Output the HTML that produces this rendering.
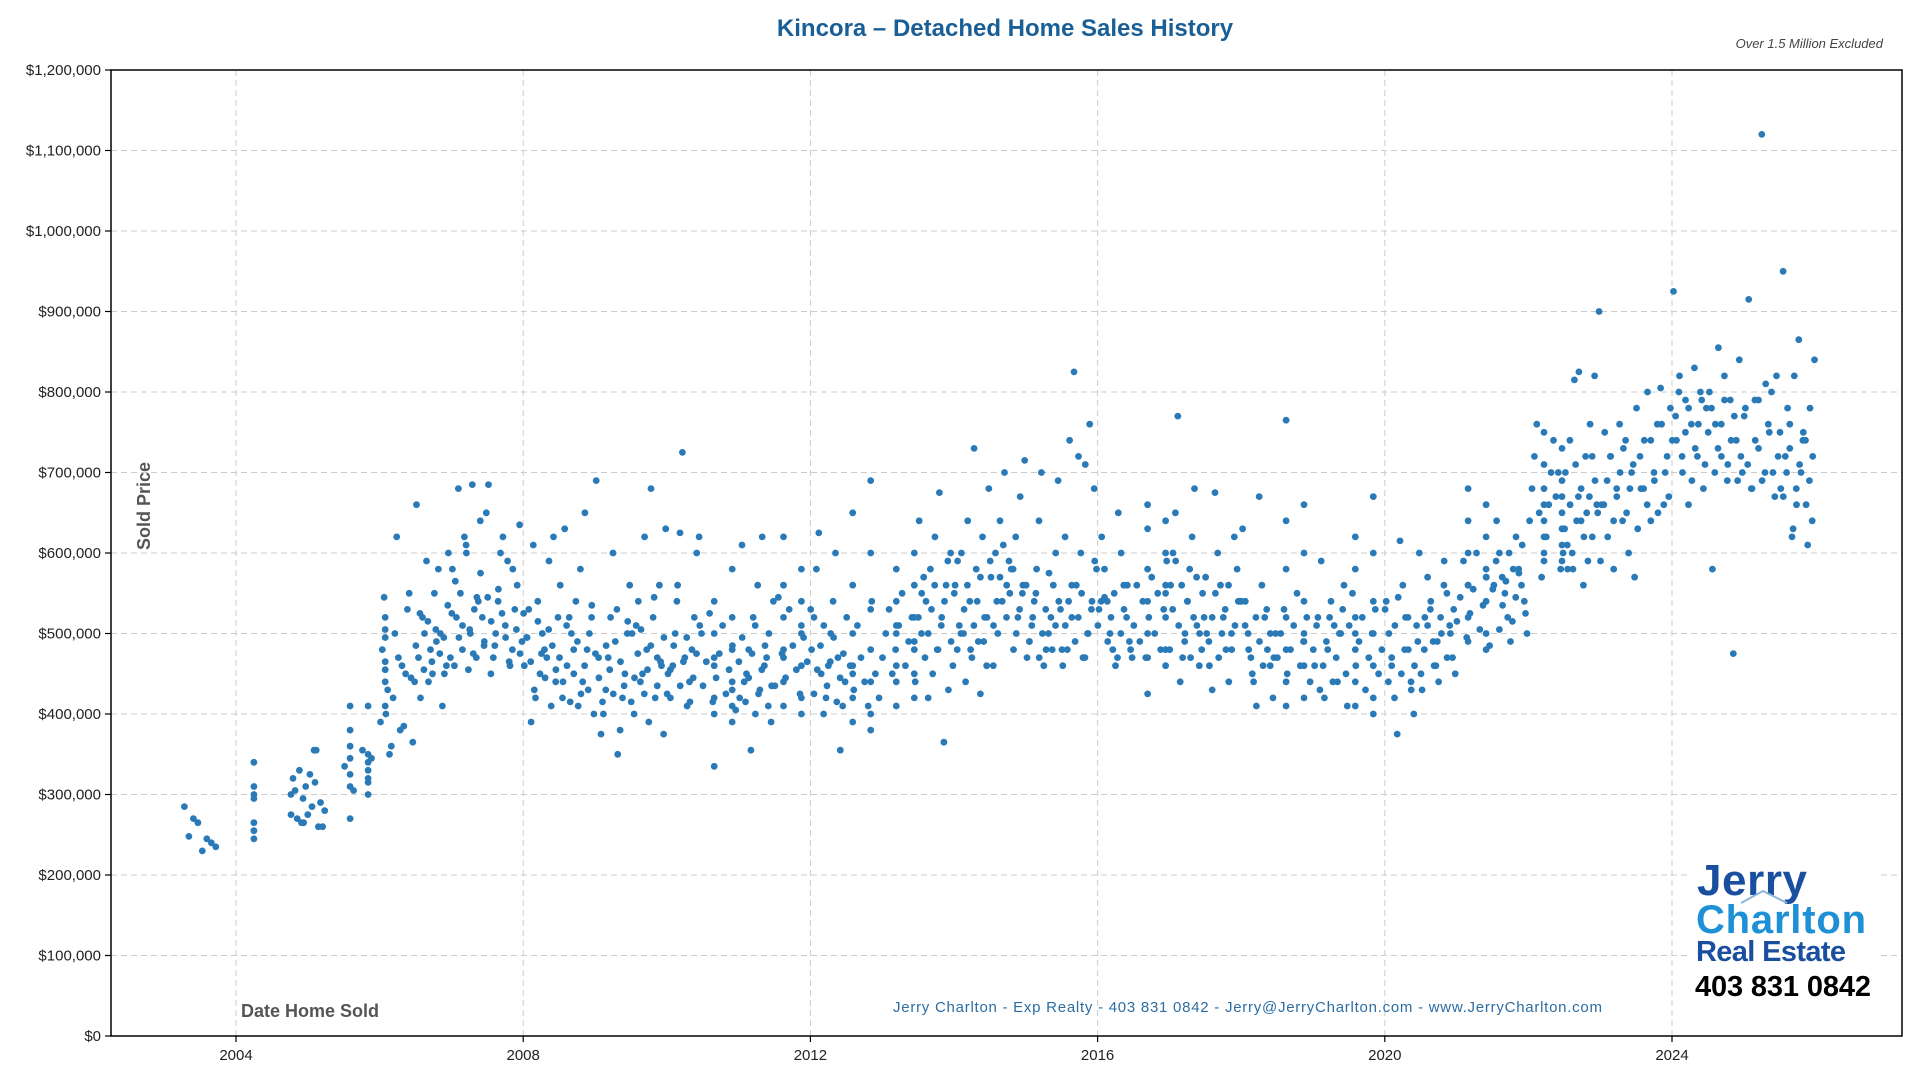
<!DOCTYPE html>
<html><head><meta charset="utf-8">
<style>
html,body{margin:0;padding:0;background:#fff;}
body{width:1920px;height:1080px;overflow:hidden;font-family:"Liberation Sans",sans-serif;}
</style></head>
<body>
<svg id="chart" width="1920" height="1080" xmlns="http://www.w3.org/2000/svg">
  <text x="1005" y="36" text-anchor="middle" font-family="Liberation Sans, sans-serif" font-weight="bold" font-size="24" fill="#1a5e96">Kincora – Detached Home Sales History</text>
  <text x="1883" y="48" text-anchor="end" font-family="Liberation Sans, sans-serif" font-style="italic" font-size="13" fill="#444">Over 1.5 Million Excluded</text>
  <g id="grid"></g>
  <g id="yticks"></g>
  <g id="xticks"></g>
  <g id="dots"></g>
  <rect x="111" y="70" width="1791" height="966" fill="none" stroke="#000" stroke-width="1.5"/>
  <text transform="translate(150,506) rotate(-90)" text-anchor="middle" font-family="Liberation Sans, sans-serif" font-weight="bold" font-size="18" fill="#555">Sold Price</text>
  <text x="241" y="1017" font-family="Liberation Sans, sans-serif" font-weight="bold" font-size="18" fill="#555">Date Home Sold</text>
  <text x="893" y="1012" textLength="709" font-family="Liberation Sans, sans-serif" font-size="15" fill="#2c6da3">Jerry Charlton - Exp Realty - 403 831 0842 - Jerry@JerryCharlton.com - www.JerryCharlton.com</text>
  <g>
    <rect x="1690" y="850" width="190" height="160" fill="#fff"/>
    <text x="1697" y="895" textLength="110" font-family="Liberation Sans, sans-serif" font-weight="bold" font-size="44" fill="#1a4fa0">Jerry</text>
    <polyline points="1741,903 1763,891 1787,903" fill="none" stroke="#8ab6d8" stroke-width="2"/>
    <text x="1696" y="933" textLength="170" font-family="Liberation Sans, sans-serif" font-weight="bold" font-size="40" fill="#1e90d6">Charlton</text>
    <text x="1696" y="961" textLength="150" font-family="Liberation Sans, sans-serif" font-weight="bold" font-size="29" fill="#1a4fa0">Real Estate</text>
    <text x="1695" y="996" textLength="176" font-family="Liberation Sans, sans-serif" font-weight="bold" font-size="29" fill="#000">403 831 0842</text>
  </g>
</svg>
<script>
// Data: each bin = half-year start, prices in $K
const binStarts = [2003.25,2004,2004.75,2005.5,2006,2006.5,2007,2007.5,2008,2008.5,2009,2009.5,2010,2010.5,2011,2011.5,2012,2012.5,2013,2013.5,2014,2014.5,2015,2015.5,2016,2016.5,2017,2017.5,2018,2018.5,2019,2019.5,2020,2020.5,2021,2021.5,2022,2022.5,2023,2023.5,2024,2024.5,2025,2025.5];
const binPrices = [
[285,235,240,245,230,265,270,248],
[295,265,245,255,310,340,300],
[265,260,270,285,300,310,290,330,355,320,275,260,265,355,305,325,280],
[410,410,320,310,300,270,350,380,340,345,330,325,315,360],
[460,440,360,385,390,420,450,480,500,530,545,620,550,400,470,445,430,380,365,350],
[460,500,580,660,480,450,520,490,470,440,410,420,550,600,590,500,470,450],
[580,600,640,680,685,650,620,540,520,500,490,480,470,460,455,520,550,530],
[620,635,600,560,540,530,500,480,470,460,450,590,685,510,490],
[500,520,540,620,610,590,530,480,460,450,440,420,410,390,470,495],
[650,630,580,560,540,520,500,480,460,440,420,410,400,480,500,520],
[690,600,560,520,500,470,450,430,420,400,380,375,350,470,490],
[630,620,560,540,520,500,480,460,440,420,400,390,375,450,470,510,680],
[725,620,625,600,560,520,500,480,460,440,420,410,450,470,500],
[580,540,520,500,480,460,440,420,410,400,390,335,430,470],
[620,610,560,540,520,500,480,460,440,430,420,400,390,355,470,450],
[620,580,560,540,520,500,480,460,440,420,410,400,470,510],
[625,600,580,540,520,500,480,460,440,420,410,400,355,450,470],
[690,650,600,560,530,500,480,460,440,420,400,390,380,450],
[600,580,560,540,520,500,480,460,450,440,420,410,490,510],
[675,640,620,600,580,560,540,520,500,480,460,450,430,420,365,570],
[730,680,640,620,600,580,560,540,520,500,490,480,470,460,440,425,510],
[715,700,670,640,620,600,580,570,560,550,540,520,500,480,460,590],
[700,690,640,600,580,560,540,520,510,500,490,480,470,460,530],
[825,760,740,710,620,600,580,560,540,520,500,480,470,460,720,680],
[650,620,600,580,560,540,520,500,490,480,470,460,530],
[660,640,630,600,580,560,540,520,500,480,470,460,425,550],
[770,680,650,620,600,580,560,540,520,500,480,470,460,440,510],
[675,620,600,580,560,540,520,500,480,460,440,430,500],
[670,630,560,540,520,500,480,470,460,440,420,410,500],
[765,660,640,600,580,540,520,500,480,460,440,420,410,490],
[590,560,540,520,500,480,460,440,420,410,510],
[670,620,600,580,540,520,500,480,460,440,420,410,400,500],
[615,600,560,540,520,500,480,460,440,420,400,375,510],
[590,570,550,530,510,490,470,460,450,440,430,500,520],
[680,660,640,620,600,580,560,540,520,500,490,480,560,570],
[640,620,600,580,570,560,550,540,520,500,490,560,580],
[760,740,720,700,680,660,640,620,600,590,580,570,700,650,670],
[900,825,820,815,760,740,720,700,680,660,640,620,600,590,580,560],
[760,750,740,720,700,680,660,640,620,600,580,570],
[805,800,780,760,740,720,700,680,660,640,630],
[925,830,820,800,790,780,760,740,720,700,680,660],
[855,840,820,800,790,760,740,720,700,690,580,475],
[1120,915,800,790,780,760,740,720,700,680,670],
[950,865,840,820,780,760,740,720,700,680,660,640,620,610,780,750]
];
// additional sales in the dense middle of each bin ($K)
const binExtra = [
[],[],
[275,295,315],
[335,345,355,305],
[455,465,495,505,520,440,410],
[485,495,505,515,525,535,475,465,455],
[565,575,505,495,485,475,510,525,545,610],
[525,515,505,495,485,475,465,555,545,580],
[505,515,495,485,475,465,455,445,430,525],
[470,460,450,440,430,490,510,535,425,415],
[485,475,465,455,445,435,425,415,515,530],
[505,495,485,475,465,455,445,435,425,415,545],
[495,485,475,465,455,445,435,425,415,540,510],
[485,475,465,455,445,435,425,415,405,510,525],
[495,485,475,465,455,445,435,425,415,410,510],
[495,485,475,465,455,445,435,425,530,545],
[495,485,475,465,455,445,435,425,415,510,530],
[470,460,450,440,430,420,410,510,520,540],
[530,520,510,500,490,480,470,460,450,440,550],
[560,550,540,530,520,510,500,490,480,470,590],
[570,560,550,540,530,520,510,500,490,480,590],
[590,580,570,560,550,540,530,520,510,500,610],
[550,540,530,520,510,500,490,480,470,560,575],
[550,540,530,520,510,500,490,480,470,560,590],
[560,550,540,530,520,510,500,490,480,470,545],
[570,560,550,540,530,520,510,500,490,480,470,590],
[570,560,550,540,530,520,510,500,490,480,470,590],
[560,550,540,530,520,510,500,490,480,470,570],
[530,520,510,500,490,480,470,460,450,540],
[530,520,510,500,490,480,470,460,450,440,550],
[520,510,500,490,480,470,460,450,440,430,530],
[530,520,510,500,490,480,470,460,450,430,550],
[530,520,510,490,480,470,460,450,440,430,545],
[540,530,520,510,500,490,480,470,460,450,560],
[600,590,570,555,545,535,525,515,505,495,485],
[610,600,590,575,565,555,545,535,525,515,505],
[690,680,670,660,650,640,630,620,610,600,590,710,730,750],
[720,710,690,670,650,640,630,620,610,650,660,670,580],
[730,720,710,700,690,680,670,660,650,640,590],
[780,760,740,720,700,690,680,670,650,660],
[800,790,780,770,760,750,740,730,720,710,690],
[790,780,770,760,750,740,730,720,710,700,690],
[820,810,790,770,750,730,710,700,690,680],
[750,740,730,720,710,700,690,680,670,660,630]
];
const yTickValues = [0,100000,200000,300000,400000,500000,600000,700000,800000,900000,1000000,1100000,1200000];
const xTickYears = [2004,2008,2012,2016,2020,2024];

const NS = "http://www.w3.org/2000/svg";
const L=111,R=1902,T=70,B=1036;
function xScale(yr){return 236+(yr-2004)*71.8;}
function yScale(v){return B-(v/1200000)*(B-T);}
function mk(tag,attrs,parent){const e=document.createElementNS(NS,tag);for(const k in attrs)e.setAttribute(k,attrs[k]);parent.appendChild(e);return e;}
function fmt(v){return "$"+v.toLocaleString("en-US");}

const grid=document.getElementById("grid"),yt=document.getElementById("yticks"),xt=document.getElementById("xticks"),dots=document.getElementById("dots");
yTickValues.forEach(v=>{
  const y=yScale(v);
  if(v>0&&v<1200000){const g=mk("line",{x1:L,x2:R,y1:y,y2:y,stroke:"#ccc","stroke-dasharray":"6,4","stroke-width":1},grid);
  
  }
  mk("line",{x1:L-6,x2:L,y1:y,y2:y,stroke:"#000","stroke-width":1.2},yt);
  const t=mk("text",{x:L-10,y:y+5,"text-anchor":"end","font-size":15,fill:"#222","font-family":"Liberation Sans, sans-serif"},yt);
  t.textContent=fmt(v);
  
  
});
xTickYears.forEach(yr=>{
  const x=xScale(yr);
  const g=mk("line",{x1:x,x2:x,y1:T,y2:B,stroke:"#ccc","stroke-dasharray":"6,4","stroke-width":1},grid);
  
  
  mk("line",{x1:x,x2:x,y1:B,y2:B+6,stroke:"#000","stroke-width":1.2},xt);
  const t=mk("text",{x:x,y:B+24,"text-anchor":"middle","font-size":15,fill:"#222","font-family":"Liberation Sans, sans-serif"},xt);
  t.textContent=String(yr);
  
  
});
function plotBin(s,arr,offset,bi){
  const n=arr.length;
  arr.forEach((p,i)=>{
    const slot=(i*7+bi*3)%n;
    const date=s+(slot+offset)/n*0.5;
    const c=mk("circle",{cx:xScale(date).toFixed(1),cy:yScale(p*1000).toFixed(1),r:3.4,fill:"#2a7ab8"},dots);
    
    
  });
}
binStarts.forEach((s,bi)=>{
  plotBin(s,binPrices[bi],0.5,bi);
  plotBin(s,binExtra[bi],0.1,bi+1);
});
</script>
</body></html>
